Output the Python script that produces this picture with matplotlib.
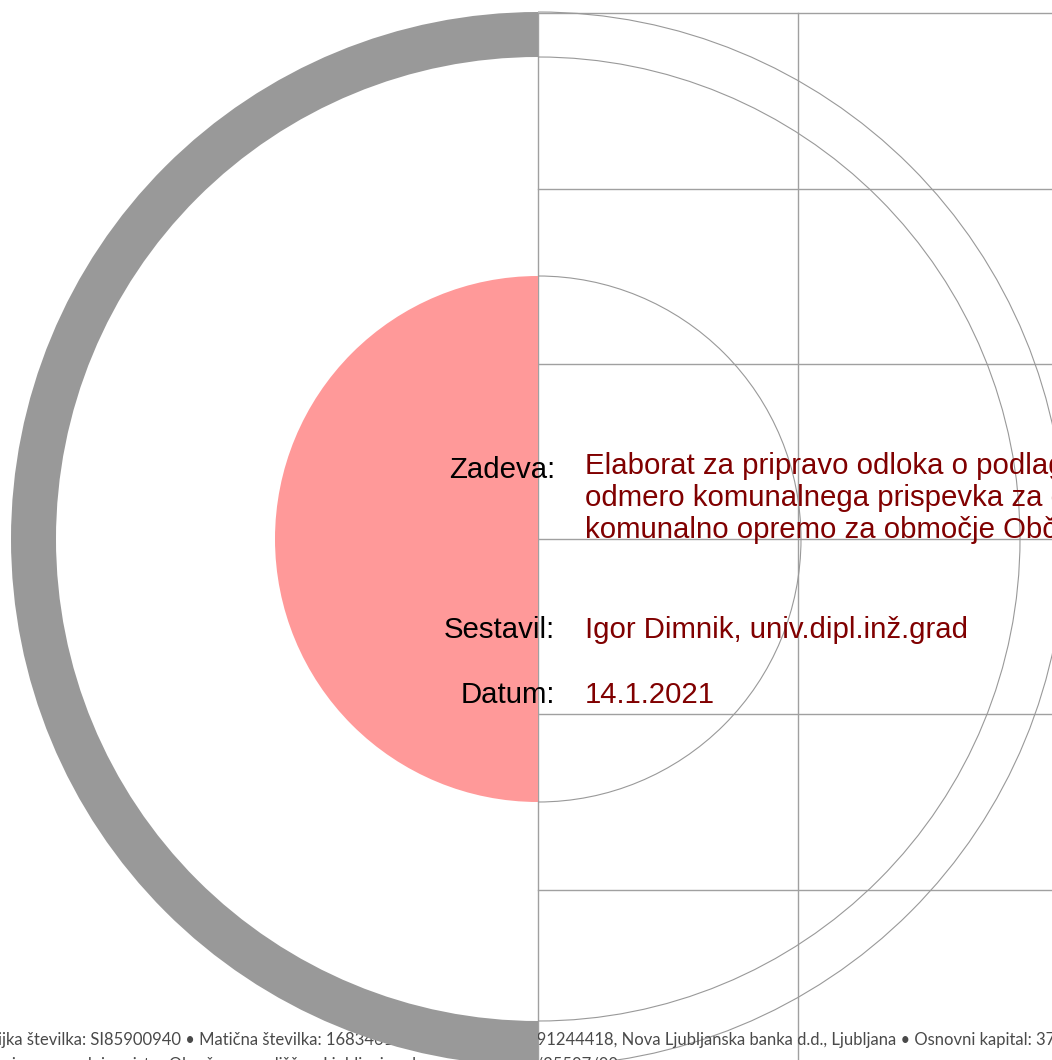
import numpy as np
import matplotlib.pyplot as plt
from matplotlib.patches import Wedge, Arc

# geometry (pixel units, y grows downwards)
center = (538, 539)
ring_outer = 527
ring_inner = 482
disc_r = 263
grid_x = [538, 798]
grid_y = [13, 189, 364, 539, 714, 890]

labels = ['Zadeva:', 'Sestavil:', 'Datum:']
label_y = [478, 638, 703]
zadeva_lines = ['Elaborat za pripravo odloka o podlagah za',
                'odmero komunalnega prispevka za obstoječo',
                'komunalno opremo za območje Občine']
zadeva_y = [474, 506, 538]
values = ['Igor Dimnik, univ.dipl.inž.grad', '14.1.2021']
values_y = [638, 703]

footer_left = ['ijka številka: SI85900940 • Matična številka: 1683461000 • TRR: SI56',
               'vpisana v sodni register Okrožnega sodišča v Ljubljani pod']
footer_right = ['091244418, Nova Ljubljanska banka d.d., Ljubljana • Osnovni kapital: 37.000 EUR',
                '1/35597/00']
footer_y = [1045, 1070]

fig = plt.figure(figsize=(10.52, 10.60), dpi=100)
ax = fig.add_axes([0, 0, 1, 1])
ax.set_xlim(0, 1052)
ax.set_ylim(1060, 0)
ax.axis('off')

line_c = '#a0a0a0'
# grid
for y in grid_y:
    ax.plot([grid_x[0], 1052], [y, y], color=line_c, lw=1.0, zorder=1)
for x in grid_x:
    ax.plot([x, x], [grid_y[0], 1060], color=line_c, lw=1.0, zorder=1)

# thin arcs on the right half
for r in [disc_r, ring_inner, ring_outer]:
    ax.add_patch(Arc(center, 2 * r, 2 * r, theta1=-90, theta2=90,
                     color='#999999', lw=0.8, zorder=1))

# footer text (partly hidden under the ring)
fkw = dict(fontsize=12, color='#4a4a4a', family=['Lato', 'DejaVu Sans'], va='baseline', zorder=2)
for txt, y, x0 in zip(footer_left, footer_y, [-2, -6]):
    ax.text(x0, y, txt, ha='left', **fkw)
for txt, y in zip(footer_right, footer_y):
    ax.text(527, y, txt, ha='left', **fkw)

# grey half ring and pink half disc
ax.add_patch(Wedge(center, ring_outer, 90, 270, width=ring_outer - ring_inner,
                   facecolor='#999999', edgecolor='none', zorder=3))
ax.add_patch(Wedge(center, disc_r, 90, 270, facecolor='#ff9999',
                   edgecolor='none', zorder=3))

tkw = dict(fontsize=21.2, family=['Liberation Sans', 'DejaVu Sans'], va='baseline', zorder=4)
for lab, y in zip(labels, label_y):
    ax.text(555, y, lab, ha='right', color='black', **tkw)
for line, y in zip(zadeva_lines, zadeva_y):
    ax.text(585, y, line, ha='left', color='#800000', **tkw)
for v, y in zip(values, values_y):
    ax.text(585, y, v, ha='left', color='#800000', **tkw)

plt.savefig('out.png', dpi=100)
